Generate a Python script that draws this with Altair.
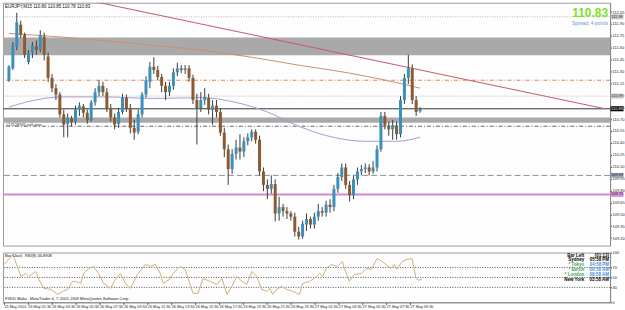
import altair as alt
import pandas as pd

FONT = "Liberation Sans"

# EURJPY M15 bars, oldest first
opens = [
    111.19, 111.34, 111.61, 111.89, 111.76, 111.42, 111.54, 111.62, 111.57, 111.74,
    111.49, 111.22, 111.09, 111.01, 110.76, 110.64, 110.71, 110.67, 110.82, 110.86,
    110.78, 110.69, 110.91, 111.04, 111.12, 111.04, 110.84, 110.72, 110.64, 110.79,
    110.97, 110.84, 110.59, 110.54, 110.76, 111.01, 111.17, 111.36, 111.32, 111.23,
    111.12, 111.04, 111.12, 111.29, 111.34, 111.32, 111.34, 111.22, 110.94, 110.84,
    110.94, 110.97, 110.82, 110.87, 110.79, 110.53, 110.32, 110.07, 110.26, 110.34,
    110.29, 110.42, 110.47, 110.54, 110.44, 110.04, 109.87, 109.82, 109.88, 109.51,
    109.59, 109.54, 109.51, 109.47, 109.28, 109.22, 109.37, 109.44, 109.37, 109.47,
    109.54, 109.52, 109.62, 109.59, 109.82, 109.97, 110.09, 109.87, 109.74, 109.94,
    110.04, 110.07, 110.09, 110.04, 110.09, 110.32, 110.74, 110.62, 110.57, 110.62,
    110.51, 110.94, 111.22, 111.34, 110.94, 110.80,
]
highs = [
    111.38, 111.67, 112.04, 111.94, 111.79, 111.57, 111.67, 111.69, 111.82, 111.79,
    111.54, 111.27, 111.14, 111.04, 110.82, 110.77, 110.74, 110.87, 110.91, 110.89,
    110.82, 110.94, 111.09, 111.19, 111.17, 111.09, 110.89, 110.77, 110.84, 111.02,
    111.01, 110.89, 110.69, 110.82, 111.04, 111.24, 111.42, 111.48, 111.37, 111.27,
    111.17, 111.17, 111.34, 111.41, 111.38, 111.38, 111.38, 111.26, 111.02, 111.04,
    111.09, 111.02, 110.94, 110.94, 110.84, 110.59, 110.38, 110.32, 110.44, 110.51,
    110.47, 110.52, 110.57, 110.57, 110.49, 110.09, 109.94, 109.99, 109.94, 109.72,
    109.63, 109.59, 109.54, 109.52, 109.34, 109.42, 109.51, 109.47, 109.52, 109.63,
    109.59, 109.67, 109.69, 109.87, 110.02, 110.14, 110.14, 109.92, 109.99, 110.09,
    110.12, 110.14, 110.13, 110.17, 110.37, 110.79, 110.79, 110.67, 110.69, 110.67,
    110.99, 111.27, 111.51, 111.39, 110.99, 110.85,
]
lows = [
    111.17, 111.32, 111.57, 111.72, 111.47, 111.39, 111.47, 111.51, 111.54, 111.44,
    111.17, 111.04, 110.94, 110.72, 110.47, 110.47, 110.61, 110.63, 110.74, 110.72,
    110.64, 110.67, 110.87, 110.99, 110.99, 110.79, 110.67, 110.57, 110.59, 110.76,
    110.79, 110.52, 110.44, 110.51, 110.72, 110.97, 111.09, 111.27, 111.19, 111.04,
    110.94, 110.99, 111.07, 111.24, 111.28, 111.27, 111.17, 110.89, 110.38, 110.79,
    110.88, 110.76, 110.63, 110.72, 110.49, 110.22, 109.87, 110.01, 110.19, 110.19,
    110.22, 110.37, 110.42, 110.39, 109.99, 109.79, 109.69, 109.76, 109.41, 109.42,
    109.47, 109.44, 109.42, 109.22, 109.18, 109.19, 109.29, 109.32, 109.32, 109.42,
    109.47, 109.47, 109.52, 109.54, 109.77, 109.92, 109.82, 109.66, 109.69, 109.87,
    109.99, 110.02, 109.99, 110.01, 110.04, 110.29, 110.57, 110.49, 110.44, 110.44,
    110.47, 110.89, 111.14, 110.89, 110.74, 110.78,
]
closes = [
    111.36, 111.63, 111.92, 111.76, 111.51, 111.53, 111.63, 111.57, 111.76, 111.51,
    111.22, 111.09, 111.01, 110.76, 110.63, 110.72, 110.66, 110.82, 110.87, 110.78,
    110.69, 110.91, 111.04, 111.12, 111.04, 110.84, 110.72, 110.63, 110.79, 110.97,
    110.84, 110.59, 110.53, 110.76, 111.01, 111.19, 111.36, 111.32, 111.23, 111.12,
    111.04, 111.12, 111.29, 111.34, 111.32, 111.34, 111.22, 110.94, 110.84, 110.94,
    110.98, 110.82, 110.87, 110.79, 110.53, 110.32, 110.07, 110.26, 110.34, 110.29,
    110.42, 110.47, 110.54, 110.44, 110.04, 109.87, 109.82, 109.88, 109.51, 109.59,
    109.54, 109.51, 109.47, 109.28, 109.22, 109.38, 109.44, 109.37, 109.47, 109.54,
    109.52, 109.62, 109.59, 109.82, 109.97, 110.09, 109.87, 109.74, 109.94, 110.04,
    110.07, 110.09, 110.04, 110.09, 110.32, 110.74, 110.62, 110.57, 110.62, 110.51,
    110.94, 111.22, 111.34, 110.94, 110.79, 110.83,
]

# slow moving average (bar index, price)
ma_slow_bar = [0, 12, 24, 37, 49, 62, 74, 87, 99, 105]
ma_slow_val = [111.78, 111.74, 111.69, 111.63, 111.57, 111.48, 111.38, 111.28, 111.16, 111.09]

# fast moving average (bar index, price)
ma_fast_bar = [0, 4, 9, 14, 24, 37, 49, 58, 66, 74, 82, 91, 99, 105]
ma_fast_val = [110.85, 110.91, 110.96, 110.98, 110.98, 110.96, 110.97, 110.91, 110.79, 110.61, 110.48, 110.42, 110.42, 110.47]

# trendline anchors (bar index, price)
trend_bar = [21, 152.25]
trend_val = [112.19, 110.83]

# RSI(8) (bar index, value)
rsi_bar = [0, 2.25, 4.25, 5.5, 6.25, 8, 8.75, 10, 11.75, 13.5, 14.75, 16, 17.25, 18, 19.25, 20,
           21.25, 22.5, 23.75, 25, 26.75, 28, 29.25, 30.5, 31.75, 33.5, 35.5, 36.75, 38, 39.25,
           40, 41.5, 42.5, 44.25, 45.5, 46.75, 47.5, 48.75, 50, 51.75, 53.5, 54.75, 56, 57.25,
           58.5, 59.75, 61, 62.25, 63.5, 64.75, 66, 66.75, 67.5, 68.5, 69.75, 71, 72.5, 74.25,
           75, 76.75, 78, 79.25, 80, 81, 82.25, 83.75, 85, 85.5, 86.75, 88, 89.75, 91, 92.25,
           93.75, 95, 96, 97.25, 98, 98.75, 100, 101.25, 102.5, 103.5, 104.25, 105]
rsi_val = [76, 96, 52, 58, 52, 62, 46, 28, 26, 16, 22, 26, 42, 42, 38, 58,
           68, 72, 58, 38, 28, 46, 58, 38, 28, 56, 76, 72, 76, 58,
           38, 46, 58, 72, 66, 36, 18, 18, 48, 42, 36, 48, 16, 32,
           52, 42, 36, 62, 52, 26, 22, 28, 16, 26, 32, 26, 22, 16,
           38, 42, 48, 58, 52, 68, 76, 72, 82, 68, 42, 56, 58, 68, 66,
           88, 82, 76, 68, 76, 66, 82, 86, 88, 48, 44, 46.89]

# horizontal price levels
zone_lo = [111.505, 110.655]
zone_hi = [111.73, 110.72]
dotted_levels = [111.99, 110.99]
bid_level = 110.83
order_level = 110.61
pivot_level = 111.19
round_level = 109.99
support_level = 109.75

price_ticks = [109.20, 109.35, 109.50, 109.65, 109.80, 109.95, 110.10, 110.25, 110.40,
               110.55, 110.70, 110.85, 111.00, 111.15, 111.30, 111.45, 111.60, 111.75,
               111.90, 112.05]
time_ticks = list(range(0, 103, 6))
time_labels = ["25 May 2010", "26 May 01:30", "26 May 03:30", "26 May 05:30", "26 May 07:30",
               "26 May 09:30", "26 May 11:30", "26 May 13:30", "26 May 15:30", "26 May 17:30",
               "26 May 19:30", "26 May 21:30", "26 May 23:30", "27 May 01:30", "27 May 03:30",
               "27 May 05:30", "27 May 07:30", "27 May 09:30"]

# ---------------------------------------------------------------- layout
W = 610
H_MAIN = 244
H_RSI = 50
BAR_PX = 4.0
X_LO = -0.25
X_HI = X_LO + W / BAR_PX
UP, DOWN = "#3a8fbd", "#8c5a32"

xs = alt.Scale(domain=[X_LO, X_HI], nice=False, zero=False)
ys = alt.Scale(domain=[109.105, 112.1675], nice=False, zero=False)
rs = alt.Scale(domain=[0, 100], nice=False, zero=False)

y_axis = alt.Axis(orient="right", values=price_ticks, format=".2f", grid=False,
                  labelFontSize=4, labelPadding=0.5, tickSize=1.5, labelColor="#222",
                  domainColor="#888", tickColor="#444", labelFont=FONT, title=None)
r_axis = alt.Axis(orient="right", values=[0, 30, 50, 70, 100], grid=False,
                  labelFontSize=4, labelPadding=0.5, tickSize=1.5, labelColor="#222",
                  domainColor="#888", tickColor="#444", labelFont=FONT, title=None)
label_js = "[" + ",".join("'" + t + "'" for t in time_labels) + "]"
x_axis = alt.Axis(values=time_ticks, labelExpr=label_js + "[round(datum.value/6)]",
                  labelAlign="left", labelBaseline="top", labelFontSize=3.8, labelPadding=0.5,
                  tickSize=2, labelFont=FONT, labelColor="#222", domainColor="#888",
                  tickColor="#444", grid=False, title=None, labelOverlap=False, labelFlush=False)


def X(field):
    return alt.X(field, type="quantitative", scale=xs, axis=None)


def Y(field):
    return alt.Y(field, type="quantitative", scale=ys, axis=y_axis)


one = pd.DataFrame({"k": [0]})


def label(text, x, y, size=4.5, color="#111", align="left", weight="normal"):
    return alt.Chart(one).mark_text(text=text, align=align, baseline="middle", fontSize=size,
                                    color=color, fontWeight=weight, font=FONT).encode(
        x=alt.value(x), y=alt.value(y))


bars = pd.DataFrame({"bar": list(range(len(opens))), "open": opens, "high": highs,
                     "low": lows, "close": closes})
bars["dir"] = ["up" if c >= o else "down" for o, c in zip(opens, closes)]

zones = pd.DataFrame({"lo": zone_lo, "hi": zone_hi})
zone_layer = alt.Chart(zones).mark_rect(color="#a9a9a9").encode(
    x=alt.value(0), x2=alt.value(W), y=Y("lo"), y2="hi")


def hline(level, color, dash=None, width=1.0):
    kw = {"color": color, "strokeWidth": width}
    if dash:
        kw["strokeDash"] = dash
    return alt.Chart(pd.DataFrame({"p": [level]})).mark_rule(**kw).encode(y=Y("p"))


dotted = alt.Chart(pd.DataFrame({"p": dotted_levels})).mark_rule(
    color="#b8b8b8", strokeDash=[1, 1.5]).encode(y=Y("p"))

trend = alt.Chart(pd.DataFrame({"bar": trend_bar, "p": trend_val})).mark_line(
    color="#c45a66", strokeWidth=1, clip=True).encode(x=X("bar"), y=Y("p"))
ma_slow = alt.Chart(pd.DataFrame({"bar": ma_slow_bar, "p": ma_slow_val})).mark_line(
    color="#cf8c6e", strokeWidth=1, interpolate="monotone").encode(x=X("bar"), y=Y("p"))
ma_fast = alt.Chart(pd.DataFrame({"bar": ma_fast_bar, "p": ma_fast_val})).mark_line(
    color="#a49ed0", strokeWidth=1, interpolate="monotone").encode(x=X("bar"), y=Y("p"))

wicks = alt.Chart(bars).mark_rule(color="#3c3c3c", strokeWidth=1).encode(
    x=X("bar"), y=Y("low"), y2="high")
bodies = alt.Chart(bars).mark_bar(size=BAR_PX - 1).encode(
    x=X("bar"), y=Y("open"), y2="close",
    color=alt.Color("dir:N", scale=alt.Scale(domain=["up", "down"], range=[UP, DOWN]), legend=None))

# highlighted price tags on the right scale
tags = pd.DataFrame({"p": [dotted_levels[0], dotted_levels[1], bid_level, round_level, support_level],
                     "bg": ["#c8c8c8", "#c8c8c8", "#000000", "#9aa6b8", "#d890d8"],
                     "fg": ["#333333", "#333333", "#ffffff", "#222222", "#222222"]})
tags["txt"] = [f"{v:.2f}" for v in tags["p"]]
tag_box = alt.Chart(tags).mark_tick(orient="horizontal", size=13, thickness=5, opacity=1).encode(
    x=alt.value(W + 7), y=Y("p"), color=alt.Color("bg:N", scale=None))
tag_txt = alt.Chart(tags).mark_text(fontSize=4, font=FONT, align="center", baseline="middle").encode(
    x=alt.value(W + 7), y=Y("p"), text="txt:N", color=alt.Color("fg:N", scale=None))

main = alt.layer(
    zone_layer,
    dotted,
    hline(pivot_level, "#e0864f", [4, 2, 1, 2]),
    hline(bid_level, "#333333"),
    hline(order_level, "#666666", [4, 2, 1, 2]),
    hline(round_level, "#909090", [6, 3]),
    hline(support_level, "#d08cd0", None, 2),
    ma_slow, ma_fast, trend,
    wicks, bodies,
    tag_box, tag_txt,
    label("EURJPY,M15  110.80 110.85 110.78 110.83", 2, 4, size=4.5),
    label("#17128935 sell stop", 3, 123, size=4, color="#333"),
    label("110.83", 608, 10, size=12, color="#7ee02a", align="right", weight="bold"),
    label("Spread: 4 points", 608, 20, size=5, color="#6a9cc8", align="right"),
).properties(width=W, height=H_MAIN)

rsi_df = pd.DataFrame({"bar": rsi_bar, "v": rsi_val})
RY = lambda f: alt.Y(f, type="quantitative", scale=rs, axis=r_axis)
rsi_levels = alt.Chart(pd.DataFrame({"v": [70, 50, 30]})).mark_rule(
    color="#555555", strokeDash=[1, 1.5]).encode(y=RY("v"))
rsi_line = alt.Chart(rsi_df).mark_line(color="#cdb07c", strokeWidth=1).encode(
    x=alt.X("bar", type="quantitative", scale=xs, axis=x_axis), y=RY("v"))

clock_rows = [("Bar Left", "[01:13]", "#000", "#000"),
              ("Sydney", "05:58 PM", "#000", "#000"),
              ("* Tokyo", "04:58 PM", "#3aa35a", "#4a90d9"),
              ("* Berlin", "09:58 AM", "#3aa35a", "#4a90d9"),
              ("* London", "08:58 AM", "#3aa35a", "#4a90d9"),
              ("New York", "03:58 AM", "#000", "#000")]
clock_layers = []
for i, (name, val, c1, c2) in enumerate(clock_rows):
    yy = 3 + i * 5
    clock_layers.append(label(name, 584, yy, size=4.5, color=c1, align="right", weight="bold"))
    clock_layers.append(label(val, 609, yy, size=4.5, color=c2, align="right", weight="bold"))

rsi = alt.layer(
    rsi_levels, rsi_line,
    label("Bar Clock", 2, 3, size=4),
    label("RSI(8) 46.8908", 22, 3, size=4),
    label("FXDD Malta - MetaTrader 4, \u00a9 2001-2009 MetaQuotes Software Corp.", 2, 47, size=4),
    *clock_layers,
).properties(width=W, height=H_RSI)

chart = alt.vconcat(main, rsi, spacing=3).properties(
    padding={"left": 1, "top": 1, "right": 0, "bottom": 0}, background="#ffffff"
).configure_view(stroke="#9a9a9a", strokeWidth=1, fill="#fdfdfd")

chart.save("out.html", embed_options={"renderer": "svg", "actions": False})
